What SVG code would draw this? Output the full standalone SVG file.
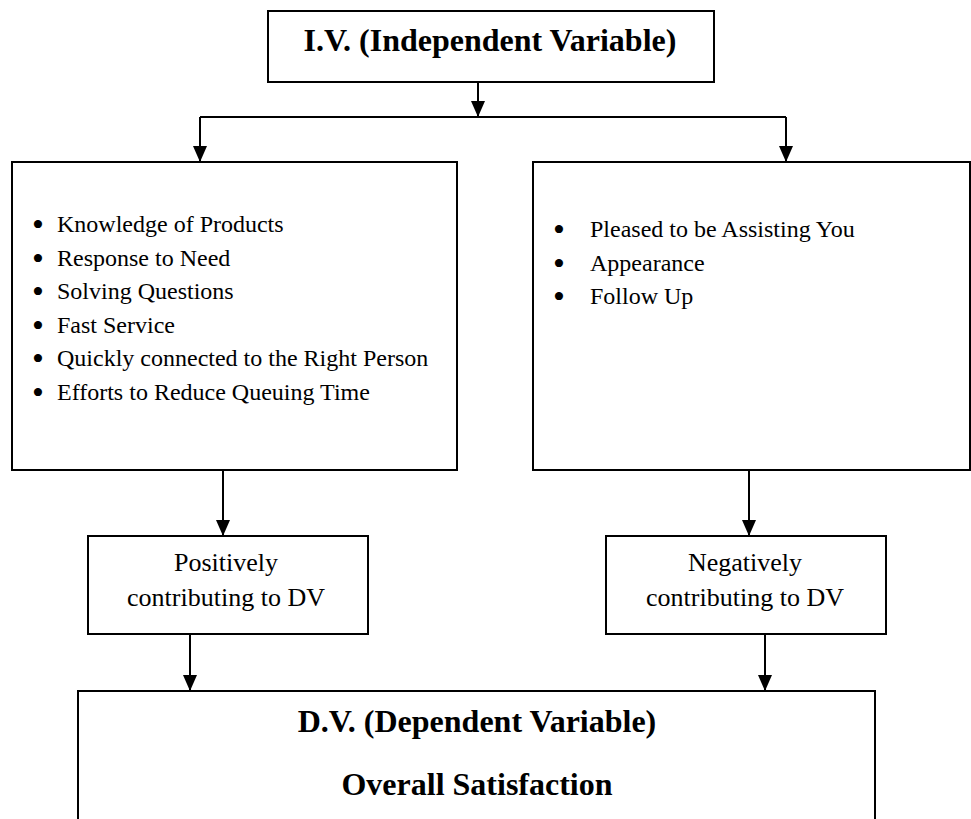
<svg xmlns="http://www.w3.org/2000/svg" width="971" height="819" viewBox="0 0 971 819">
  <defs>
    <style>
      .box { fill: #ffffff; stroke: #000000; stroke-width: 2; }
      .conn { fill: none; stroke: #000000; stroke-width: 2; }
      .title { font-family: "Liberation Serif", "Times New Roman", serif; font-size: 32px; font-weight: bold; fill: #000000; text-anchor: middle; }
      .item { font-family: "Liberation Serif", "Times New Roman", serif; font-size: 24px; fill: #000000; }
      .bullet { font-family: "Liberation Serif", "Times New Roman", serif; font-size: 34px; fill: #000000; text-anchor: middle; }
      .label { font-family: "Liberation Serif", "Times New Roman", serif; font-size: 26px; fill: #000000; text-anchor: middle; }
    </style>
    <marker id="arrow" markerUnits="userSpaceOnUse" markerWidth="16" markerHeight="14" refX="16" refY="7" orient="auto">
      <path d="M0,0 L16,7 L0,14 z" fill="#000000"/>
    </marker>
  </defs>
  <rect width="971" height="819" fill="#ffffff"/>

  <g id="connectors">
    <line class="conn" x1="478" y1="82" x2="478" y2="117" marker-end="url(#arrow)"/>
    <line class="conn" x1="200" y1="117" x2="786" y2="117"/>
    <line class="conn" x1="200" y1="117" x2="200" y2="162" marker-end="url(#arrow)"/>
    <line class="conn" x1="786" y1="117" x2="786" y2="162" marker-end="url(#arrow)"/>
    <line class="conn" x1="223" y1="470" x2="223" y2="536" marker-end="url(#arrow)"/>
    <line class="conn" x1="749" y1="470" x2="749" y2="536" marker-end="url(#arrow)"/>
    <line class="conn" x1="190" y1="634" x2="190" y2="691" marker-end="url(#arrow)"/>
    <line class="conn" x1="765" y1="634" x2="765" y2="691" marker-end="url(#arrow)"/>
  </g>

  <g id="iv">
    <rect class="box" x="268" y="11" width="446" height="71"/>
    <text class="title" x="490" y="51">I.V. (Independent Variable)</text>
  </g>

  <g id="positive-factors">
    <rect class="box" x="12" y="162" width="445" height="308"/>
    <text class="bullet" x="38" y="236">•</text>
    <text class="item" x="57" y="232">Knowledge of Products</text>
    <text class="bullet" x="38" y="269.5">•</text>
    <text class="item" x="57" y="265.5">Response to Need</text>
    <text class="bullet" x="38" y="303">•</text>
    <text class="item" x="57" y="299">Solving Questions</text>
    <text class="bullet" x="38" y="336.5">•</text>
    <text class="item" x="57" y="332.5">Fast Service</text>
    <text class="bullet" x="38" y="370">•</text>
    <text class="item" x="57" y="366">Quickly connected to the Right Person</text>
    <text class="bullet" x="38" y="403.5">•</text>
    <text class="item" x="57" y="399.5">Efforts to Reduce Queuing Time</text>
  </g>

  <g id="negative-factors">
    <rect class="box" x="533" y="162" width="437" height="308"/>
    <text class="bullet" x="559" y="241">•</text>
    <text class="item" x="590" y="237">Pleased to be Assisting You</text>
    <text class="bullet" x="559" y="274.5">•</text>
    <text class="item" x="590" y="270.5">Appearance</text>
    <text class="bullet" x="559" y="308">•</text>
    <text class="item" x="590" y="304">Follow Up</text>
  </g>

  <g id="positively">
    <rect class="box" x="88" y="536" width="280" height="98"/>
    <text class="label" x="226" y="571">Positively</text>
    <text class="label" x="226" y="606">contributing to DV</text>
  </g>

  <g id="negatively">
    <rect class="box" x="606" y="536" width="280" height="98"/>
    <text class="label" x="745" y="571">Negatively</text>
    <text class="label" x="745" y="606">contributing to DV</text>
  </g>

  <g id="dv">
    <rect class="box" x="78" y="691" width="797" height="140"/>
    <text class="title" x="477" y="732">D.V. (Dependent Variable)</text>
    <text class="title" x="477" y="795">Overall Satisfaction</text>
  </g>
</svg>
